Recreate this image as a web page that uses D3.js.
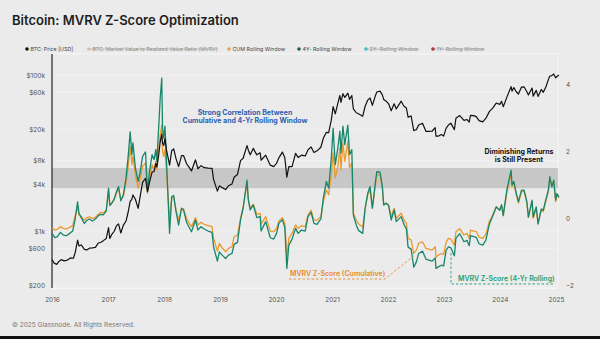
<!DOCTYPE html>
<html>
<head>
<meta charset="utf-8">
<script src="https://cdn.jsdelivr.net/npm/d3@7"></script>
<style>
  body { margin: 0; background: #ebebeb; }
  svg { display: block; font-family: Inter, "Noto Sans", sans-serif; }
</style>
</head>
<body>
<svg id="chart" width="600" height="339"></svg>
<script>
// BTC price, USD
var priceData = [
  ["2016-01-01",430],["2016-01-15",385],["2016-02-01",372],["2016-02-15",405],["2016-03-01",428],["2016-03-20",412],
  ["2016-04-10",422],["2016-05-01",450],["2016-05-20",445],["2016-06-01",535],["2016-06-16",760],["2016-06-25",640],
  ["2016-07-10",660],["2016-07-30",580],["2016-08-15",570],["2016-09-01",600],["2016-09-20",605],["2016-10-10",615],
  ["2016-10-30",700],["2016-11-15",715],["2016-12-01",750],["2016-12-20",800],["2017-01-04",1100],["2017-01-12",800],
  ["2017-01-25",900],["2017-02-10",990],["2017-02-25",1170],["2017-03-10",1230],["2017-03-25",940],["2017-04-10",1180],
  ["2017-04-28",1340],["2017-05-12",1750],["2017-05-25",2400],["2017-06-05",2550],["2017-06-12",2900],["2017-06-28",2550],
  ["2017-07-16",1950],["2017-07-28",2700],["2017-08-14",4200],["2017-09-02",4750],["2017-09-15",3200],["2017-09-28",4200],
  ["2017-10-15",5700],["2017-10-28",5800],["2017-11-08",7400],["2017-11-15",6600],["2017-11-28",9800],["2017-12-07",14000],
  ["2017-12-17",17500],["2017-12-22",13500],["2017-12-30",12500],["2018-01-07",15500],["2018-01-17",11000],["2018-02-06",7000],
  ["2018-02-20",10800],["2018-03-05",11300],["2018-03-20",8500],["2018-04-06",6700],["2018-04-25",9300],["2018-05-08",9300],
  ["2018-05-28",7300],["2018-06-15",6500],["2018-06-29",5900],["2018-07-25",8200],["2018-08-10",6300],["2018-08-30",6900],
  ["2018-09-20",6500],["2018-10-15",6400],["2018-11-10",6350],["2018-11-20",4600],["2018-12-15",3250],["2018-12-28",3800],
  ["2019-01-15",3600],["2019-02-07",3400],["2019-02-25",3800],["2019-03-20",4000],["2019-04-03",4900],["2019-04-25",5300],
  ["2019-05-15",8000],["2019-06-01",8600],["2019-06-26",12500],["2019-07-05",10900],["2019-07-17",9500],["2019-08-06",11500],
  ["2019-08-29",9500],["2019-09-20",10100],["2019-09-26",8100],["2019-10-26",9400],["2019-11-25",7000],["2019-12-17",6700],
  ["2020-01-05",7400],["2020-01-20",8700],["2020-02-12",10300],["2020-02-28",8700],["2020-03-12",4900],["2020-03-25",6700],
  ["2020-04-15",6700],["2020-05-08",9900],["2020-05-25",8800],["2020-06-15",9400],["2020-07-10",9200],["2020-07-28",11000],
  ["2020-08-17",12000],["2020-09-05",10200],["2020-09-25",10700],["2020-10-20",11900],["2020-11-05",15500],["2020-11-25",18500],
  ["2020-12-10",18300],["2020-12-27",26500],["2021-01-08",39500],["2021-01-22",32000],["2021-02-08",44000],["2021-02-21",55000],
  ["2021-02-28",45000],["2021-03-13",58000],["2021-03-25",52000],["2021-04-14",59000],["2021-04-25",49000],["2021-05-10",55000],
  ["2021-05-20",37000],["2021-06-08",33000],["2021-06-22",32000],["2021-07-20",29800],["2021-08-05",40000],["2021-08-22",48000],
  ["2021-09-06",51000],["2021-09-21",41000],["2021-10-10",54000],["2021-10-20",61000],["2021-11-10",62500],["2021-11-25",56000],
  ["2021-12-04",49000],["2021-12-20",46500],["2022-01-05",43000],["2022-01-22",35000],["2022-02-10",43000],["2022-02-24",37000],
  ["2022-03-28",46500],["2022-04-15",40000],["2022-05-01",38000],["2022-05-12",29000],["2022-06-01",30000],["2022-06-18",19500],
  ["2022-07-05",20000],["2022-07-20",23000],["2022-08-14",24200],["2022-09-06",19000],["2022-09-25",19000],["2022-10-15",19100],
  ["2022-11-05",21200],["2022-11-10",16500],["2022-11-25",16500],["2022-12-15",17300],["2022-12-30",16550],["2023-01-15",20800],
  ["2023-01-30",23000],["2023-02-15",24300],["2023-03-10",20000],["2023-03-20",28000],["2023-04-14",30400],["2023-05-12",26300],
  ["2023-06-01",27000],["2023-06-15",25100],["2023-06-23",30600],["2023-07-15",30300],["2023-08-01",29200],["2023-08-18",26100],
  ["2023-09-11",25200],["2023-10-01",27900],["2023-10-25",34400],["2023-11-15",37800],["2023-12-08",44000],["2023-12-31",42300],
  ["2024-01-12",46300],["2024-01-23",39500],["2024-02-15",52000],["2024-03-14",71500],["2024-03-20",62500],["2024-04-01",69500],
  ["2024-04-17",61500],["2024-05-01",57500],["2024-05-21",70500],["2024-06-07",70800],["2024-06-25",61500],["2024-07-05",56000],
  ["2024-07-29",68500],["2024-08-05",54000],["2024-08-25",64000],["2024-09-06",53500],["2024-09-27",65800],["2024-10-10",60500],
  ["2024-10-29",72500],["2024-11-12",88000],["2024-11-22",98000],["2024-12-05",99000],["2024-12-17",104000],["2024-12-30",92500],
  ["2025-01-07",96500],["2025-01-20",101000]
];

// MVRV Z-Score dates with cumulative and 4-year rolling values
var zDates = [
  "2016-01-01","2016-01-20","2016-02-05","2016-02-25","2016-03-15","2016-04-05","2016-04-25","2016-05-15","2016-05-30","2016-06-16",
  "2016-06-25","2016-07-10","2016-07-30","2016-08-15","2016-09-01","2016-09-20","2016-10-10","2016-10-30","2016-11-15","2016-12-01",
  "2016-12-20","2017-01-04","2017-01-12","2017-01-25","2017-02-10","2017-02-25","2017-03-10","2017-03-25","2017-04-10","2017-04-28",
  "2017-05-12","2017-05-25","2017-06-05","2017-06-12","2017-06-28","2017-07-16","2017-07-28","2017-08-14","2017-09-02","2017-09-15",
  "2017-09-28","2017-10-15","2017-10-28","2017-11-08","2017-11-15","2017-11-28","2017-12-07","2017-12-17","2017-12-22","2017-12-30",
  "2018-01-07","2018-01-17","2018-02-06","2018-02-20","2018-03-05","2018-03-20","2018-04-06","2018-04-25","2018-05-08","2018-05-28",
  "2018-06-15","2018-06-29","2018-07-25","2018-08-10","2018-08-30","2018-09-20","2018-10-15","2018-11-10","2018-11-20","2018-12-15",
  "2018-12-28","2019-01-15","2019-02-07","2019-02-25","2019-03-20","2019-04-03","2019-04-25","2019-05-15","2019-06-01","2019-06-26",
  "2019-07-05","2019-07-17","2019-08-06","2019-08-29","2019-09-20","2019-09-26","2019-10-26","2019-11-25","2019-12-17","2020-01-05",
  "2020-01-20","2020-02-12","2020-02-28","2020-03-12","2020-03-25","2020-04-15","2020-05-08","2020-05-25","2020-06-15","2020-07-10",
  "2020-07-28","2020-08-17","2020-09-05","2020-09-25","2020-10-20","2020-11-05","2020-11-25","2020-12-10","2020-12-27","2021-01-08",
  "2021-01-22","2021-02-08","2021-02-21","2021-02-28","2021-03-13","2021-03-25","2021-04-14","2021-04-25","2021-05-10","2021-05-20",
  "2021-06-08","2021-06-22","2021-07-20","2021-08-05","2021-08-22","2021-09-06","2021-09-21","2021-10-10","2021-10-20","2021-11-10",
  "2021-11-25","2021-12-04","2021-12-20","2022-01-05","2022-01-22","2022-02-10","2022-02-24","2022-03-28","2022-04-15","2022-05-01",
  "2022-05-12","2022-06-01","2022-06-18","2022-07-05","2022-07-20","2022-08-14","2022-09-06","2022-09-25","2022-10-15","2022-11-05",
  "2022-11-10","2022-11-25","2022-12-15","2022-12-30","2023-01-15","2023-01-30","2023-02-15","2023-03-10","2023-03-20","2023-04-14",
  "2023-05-12","2023-06-01","2023-06-15","2023-06-23","2023-07-15","2023-08-01","2023-08-18","2023-09-11","2023-10-01","2023-10-25",
  "2023-11-15","2023-12-08","2023-12-31","2024-01-12","2024-01-23","2024-02-15","2024-03-14","2024-03-20","2024-04-01","2024-04-17",
  "2024-05-01","2024-05-21","2024-06-07","2024-06-25","2024-07-05","2024-07-29","2024-08-05","2024-08-25","2024-09-06","2024-09-27",
  "2024-10-10","2024-10-29","2024-11-12","2024-11-22","2024-12-05","2024-12-17","2024-12-30","2025-01-07","2025-01-20"
];
var zCum = [
  -0.28,-0.35,-0.33,-0.25,-0.30,-0.32,-0.27,-0.22,0.05,0.34,
  0.10,0.05,-0.05,0.02,0.04,0.00,0.03,0.12,0.18,0.16,
  0.25,0.80,0.40,0.45,0.55,0.75,0.90,0.55,0.65,1.05,
  1.55,2.13,1.60,1.85,1.30,0.90,1.15,1.55,1.65,0.75,
  1.20,1.60,1.45,1.70,1.45,2.10,2.50,2.78,2.00,1.85,
  2.05,1.40,-0.05,0.60,0.62,0.25,-0.05,0.30,0.28,0.00,
  -0.15,-0.25,0.02,-0.20,-0.12,-0.18,-0.22,-0.25,-0.60,-0.98,
  -0.75,-0.88,-1.00,-0.90,-0.85,-0.55,-0.50,0.00,0.35,1.04,
  0.55,0.30,0.42,0.12,0.15,-0.18,0.05,-0.38,-0.40,-0.30,
  -0.08,0.02,-0.15,-1.16,-0.60,-0.45,-0.20,-0.30,-0.22,-0.25,
  0.10,0.24,-0.05,-0.06,0.05,0.50,0.85,0.70,1.30,1.95,
  1.20,1.55,2.10,1.45,2.25,1.70,2.30,1.50,1.65,0.15,
  -0.05,-0.16,-0.26,0.30,0.70,0.85,0.30,0.95,1.30,1.30,
  0.90,0.40,0.45,0.40,0.05,0.30,0.00,0.15,-0.05,-0.15,
  -0.60,-0.65,-1.05,-0.95,-0.75,-0.70,-0.90,-0.92,-0.95,-0.85,
  -1.16,-1.10,-1.05,-1.08,-0.72,-0.60,-0.62,-0.80,-0.40,-0.31,
  -0.50,-0.45,-0.60,-0.35,-0.38,-0.40,-0.56,-0.60,-0.48,-0.08,
  0.10,0.35,0.25,0.40,0.10,0.75,1.35,0.95,1.05,0.70,
  0.45,0.80,0.80,0.45,0.02,0.50,0.00,0.30,-0.18,0.25,
  0.20,0.55,0.80,1.20,0.95,1.10,0.50,0.70,0.60
];
var z4y = [
  -0.45,-0.58,-0.55,-0.42,-0.50,-0.52,-0.45,-0.38,-0.05,0.49,
  0.15,0.02,-0.15,-0.06,-0.02,-0.08,-0.02,0.08,0.12,0.10,
  0.22,0.90,0.38,0.45,0.58,0.80,0.95,0.52,0.70,1.20,
  1.85,2.58,1.90,2.25,1.50,1.10,1.35,1.85,1.98,0.80,
  1.40,1.90,1.75,2.05,1.70,2.80,3.60,4.18,2.70,2.40,
  2.75,1.70,-0.45,0.65,0.68,0.20,-0.20,0.30,0.25,-0.12,
  -0.28,-0.40,-0.05,-0.35,-0.25,-0.32,-0.38,-0.42,-0.85,-1.28,
  -1.00,-1.10,-1.20,-1.10,-1.05,-0.78,-0.72,-0.05,0.30,1.14,
  0.55,0.25,0.40,0.02,0.05,-0.38,-0.10,-0.58,-0.62,-0.45,
  -0.15,-0.04,-0.28,-1.50,-0.80,-0.62,-0.30,-0.45,-0.35,-0.38,
  0.05,0.18,-0.15,-0.18,-0.02,0.60,1.10,0.90,1.80,2.69,
  1.60,2.10,2.60,1.95,2.75,2.20,2.78,1.90,2.05,0.10,
  -0.20,-0.36,-0.45,0.30,0.75,0.95,0.30,1.05,1.39,1.38,
  0.95,0.40,0.45,0.38,-0.05,0.25,-0.10,0.05,-0.18,-0.32,
  -0.86,-0.92,-1.46,-1.30,-1.05,-0.98,-1.22,-1.25,-1.28,-1.18,
  -1.50,-1.45,-1.40,-1.42,-0.96,-0.85,-0.88,-1.12,-0.60,-0.46,
  -0.70,-0.66,-0.82,-0.52,-0.55,-0.58,-0.76,-0.80,-0.66,-0.16,
  0.06,0.34,0.24,0.40,0.08,0.84,1.44,1.00,1.10,0.74,
  0.50,0.84,0.84,0.50,0.04,0.54,0.04,0.34,-0.16,0.28,
  0.24,0.60,0.84,1.24,0.94,1.14,0.54,0.74,0.64
];

var priceTicks = [200, 600, 1000, 4000, 8000, 20000, 60000, 100000];
var priceTickLabels = ["$200", "$600", "$1k", "$4k", "$8k", "$20k", "$60k", "$100k"];
var zTicks = [-2, 0, 2, 4];
var yearTicks = [2016, 2017, 2018, 2019, 2020, 2021, 2022, 2023, 2024, 2025];
var bandRange = [0.9, 1.5];

var legendItems = [
  {label: "BTC: Price [USD]", color: "#111111", off: false},
  {label: "BTC: Market Value to Realized Value Ratio (MVRV)", color: "#f0c9a0", off: true},
  {label: "CUM Rolling Window", color: "#e8a060", off: false},
  {label: "4Y- Rolling Window", color: "#1d5e52", off: false},
  {label: "2Y- Rolling Window", color: "#35c2cc", off: true},
  {label: "1Y- Rolling Window", color: "#b01c2c", off: true}
];

var parse = d3.timeParse("%Y-%m-%d");
var svg = d3.select("#chart");

var plot = {left: 52, right: 558, top: 54, bottom: 288};

var xScale = d3.scaleTime()
  .domain([parse("2016-01-01"), parse("2025-01-01")])
  .range([52, 556]);
var yPrice = d3.scaleLog().domain([200, 100000]).range([285.3, 75.3]);
var yZ = d3.scaleLinear().domain([-2, 4]).range([285.3, 84.3]);

// background
svg.append("rect").attr("width", 600).attr("height", 339).attr("fill", "#ebebeb");
svg.append("rect").attr("x", 0).attr("y", 336).attr("width", 600).attr("height", 3).attr("fill", "#111");

// title
svg.append("text").attr("x", 12).attr("y", 25)
  .style("font-size", "13px").style("font-weight", 600).style("fill", "#1e1e1e")
  .text("Bitcoin: MVRV Z-Score Optimization");

// legend
var legX = [27, 89, 229, 299, 366, 433];
var leg = svg.append("g").selectAll("g").data(legendItems).enter().append("g")
  .attr("transform", function(d, i) { return "translate(" + legX[i] + ",49)"; });
leg.append("circle").attr("r", 1.8).attr("fill", function(d) { return d.color; });
leg.append("text").attr("x", 3.5).attr("y", 1.8)
  .style("font-size", "5.3px")
  .style("fill", function(d) { return d.off ? "#8a8a8a" : "#444"; })
  .text(function(d) { return d.label; });
leg.each(function(d) {
  if (!d.off) return;
  var w = d3.select(this).select("text").node().getComputedTextLength();
  d3.select(this).append("line").attr("x1", -2).attr("x2", 3.5 + w).attr("y1", 0).attr("y2", 0)
    .attr("stroke", "#999").attr("stroke-width", 0.5);
});

// grid
svg.append("g").selectAll("line").data(priceTicks).enter().append("line")
  .attr("x1", plot.left).attr("x2", plot.right)
  .attr("y1", function(d) { return yPrice(d); }).attr("y2", function(d) { return yPrice(d); })
  .attr("stroke", "#f4f4f4").attr("stroke-width", 0.8);

// frame
svg.append("path")
  .attr("d", "M" + plot.left + "," + plot.top + "H" + plot.right + "V" + plot.bottom + "H" + plot.left)
  .attr("fill", "none").attr("stroke", "#f6f6f6").attr("stroke-width", 1);

// band
svg.append("rect")
  .attr("x", plot.left).attr("width", plot.right - plot.left)
  .attr("y", yZ(bandRange[1])).attr("height", yZ(bandRange[0]) - yZ(bandRange[1]))
  .attr("fill", "#a9a9a9").attr("opacity", 0.55);

// axes
var yLeft = d3.axisLeft(yPrice).tickValues(priceTicks)
  .tickFormat(function(d, i) { return priceTickLabels[i]; }).tickSize(0).tickPadding(7);
svg.append("g").attr("transform", "translate(" + plot.left + ",0)").call(yLeft)
  .call(function(g) { g.select(".domain").remove(); })
  .selectAll("text").style("font-size", "6.5px").style("fill", "#555").style("font-family", "Inter, sans-serif");

var yRight = d3.axisRight(yZ).tickValues(zTicks).tickFormat(d3.format("d")).tickSize(0).tickPadding(8);
svg.append("g").attr("transform", "translate(" + plot.right + ",0)").call(yRight)
  .call(function(g) { g.select(".domain").remove(); })
  .selectAll("text").style("font-size", "6.5px").style("fill", "#555").style("font-family", "Inter, sans-serif");

var xAxis = d3.axisBottom(xScale)
  .tickValues(yearTicks.map(function(y) { return new Date(y, 0, 1); }))
  .tickFormat(d3.timeFormat("%Y")).tickSize(0).tickPadding(9);
svg.append("g").attr("transform", "translate(0," + plot.bottom + ")").call(xAxis)
  .call(function(g) { g.select(".domain").attr("stroke", "#f6f6f6"); })
  .selectAll("text").style("font-size", "6.5px").style("fill", "#555").style("font-family", "Inter, sans-serif");

svg.append("line").attr("x1", plot.left).attr("x2", plot.left)
  .attr("y1", plot.top).attr("y2", plot.bottom)
  .attr("stroke", "#222").attr("stroke-width", 1.2);

// series
var zRows = zDates.map(function(d, i) { return {date: parse(d), cum: zCum[i], y4: z4y[i]}; });

var lineCum = d3.line().x(function(d) { return xScale(d.date); }).y(function(d) { return yZ(d.cum); });
var line4y = d3.line().x(function(d) { return xScale(d.date); }).y(function(d) { return yZ(d.y4); });
var linePrice = d3.line().x(function(d) { return xScale(parse(d[0])); }).y(function(d) { return yPrice(d[1]); });

svg.append("path").datum(zRows).attr("d", lineCum)
  .attr("fill", "none").attr("stroke", "#eb9a2e").attr("stroke-width", 1.3).attr("stroke-linejoin", "round");
svg.append("path").datum(zRows).attr("d", line4y)
  .attr("fill", "none").attr("stroke", "#17866a").attr("stroke-width", 1.3).attr("stroke-linejoin", "round");
svg.append("path").datum(priceData).attr("d", linePrice)
  .attr("fill", "none").attr("stroke", "#111").attr("stroke-width", 1.2).attr("stroke-linejoin", "round");

// annotations
var note = svg.append("g").style("font-weight", 700).attr("text-anchor", "middle");
note.append("text").attr("x", 245).attr("y", 115).style("font-size", "7px").style("fill", "#2b5fb0")
  .text("Strong Correlation Between");
note.append("text").attr("x", 245).attr("y", 123).style("font-size", "7px").style("fill", "#2b5fb0")
  .text("Cumulative and 4-Yr Rolling Window");
note.append("text").attr("x", 519).attr("y", 154).style("font-size", "7px").style("fill", "#111")
  .text("Diminishing Returns");
note.append("text").attr("x", 519).attr("y", 162).style("font-size", "7px").style("fill", "#111")
  .text("is Still Present");

svg.append("text").attr("x", 290).attr("y", 276)
  .style("font-size", "7px").style("font-weight", 600).style("fill", "#e8892a")
  .text("MVRV Z-Score (Cumulative)");
svg.append("path").attr("d", "M289,279H385L415,255")
  .attr("fill", "none").attr("stroke", "#e8892a").attr("stroke-width", 0.9).attr("stroke-dasharray", "2.5,2");

svg.append("text").attr("x", 458).attr("y", 281)
  .style("font-size", "7px").style("font-weight", 600).style("fill", "#1d9e77")
  .text("MVRV Z-Score (4-Yr Rolling)");
svg.append("path").attr("d", "M451,253V284H553")
  .attr("fill", "none").attr("stroke", "#1d9e77").attr("stroke-width", 0.9).attr("stroke-dasharray", "2.5,2");

// footer
svg.append("text").attr("x", 12).attr("y", 327)
  .style("font-size", "6.5px").style("fill", "#777")
  .text("© 2025 Glassnode. All Rights Reserved.");
</script>
</body>
</html>
